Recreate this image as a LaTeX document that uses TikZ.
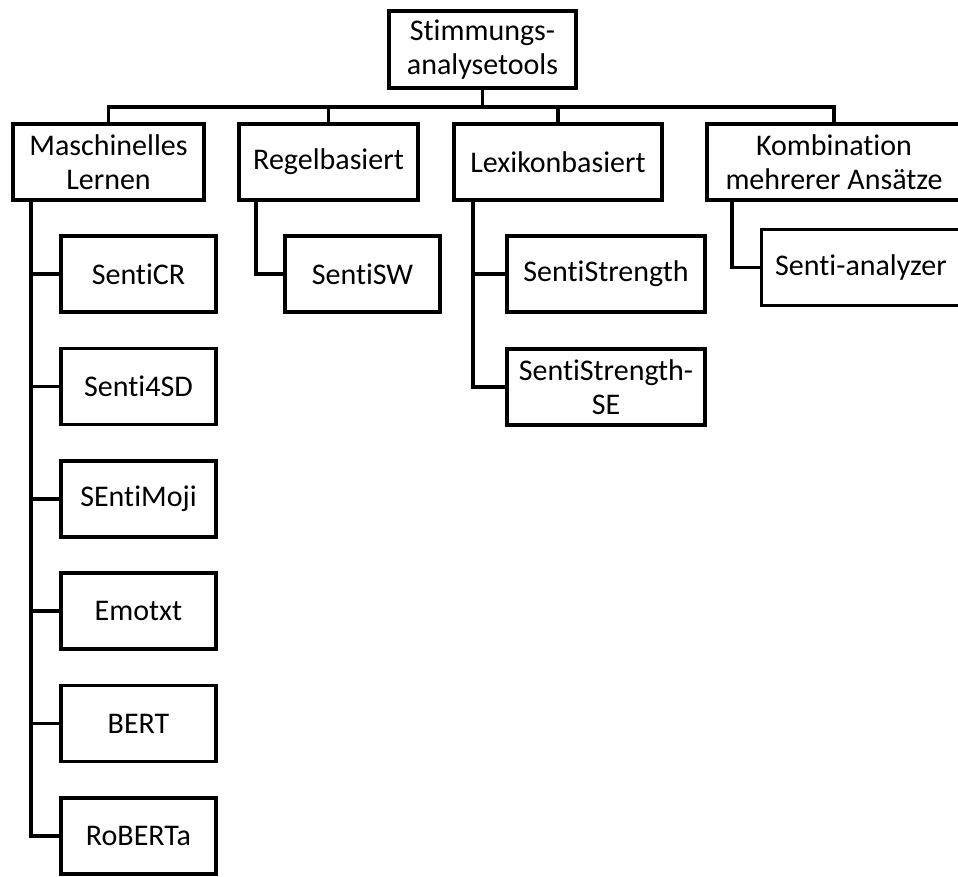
\documentclass[tikz,border=0pt]{standalone}
\usepackage{fontspec}
\setmainfont{Carlito}[RawFeature=-liga]
\usetikzlibrary{positioning, calc}

\begin{document}
\begin{tikzpicture}[x=1pt, y=-1pt,
  kasten/.style={draw, line width=3.6pt, align=center, inner sep=2pt,
    minimum height=76pt, font=\fontsize{30}{34}\selectfont},
  linie/.style={line width=3.6pt}]

\useasboundingbox (0,0) rectangle (958,876);

% Wurzel
\node[kasten, minimum width=187pt, minimum height=77pt] (wurzel) at (482.5,49.5) {Stimmungs-\\analysetools};

% Kategorien
\node[kasten, minimum width=191pt] (ml) at (108.5,162) {Maschinelles\\Lernen};
\node[kasten, minimum width=179pt] (regel) at (328.5,162) {Regelbasiert};
\node[kasten, minimum width=208pt] (lexikon) at (558,162) {Lexikonbasiert};
\node[kasten, minimum width=254pt] (kombi) at (834,162) {Kombination\\mehrerer Ansätze};

% Sammelschiene
\coordinate (bus) at (482.5,107);
\draw[linie] (wurzel.south) -- (bus);
\draw[linie] (ml.north) |- (bus) -| (kombi.north);
\draw[linie] (regel.north) -- (regel.north |- bus);
\draw[linie] (lexikon.north) -- (lexikon.north |- bus);

% Maschinelles Lernen
\foreach \name/\text [count=\i] in {senticr/SentiCR, senti4sd/Senti4SD, sentimoji/SEntiMoji, emotxt/Emotxt, bert/BERT, roberta/RoBERTa}
  \node[kasten, minimum width=155pt] (\name) at (138.5,{274+(\i-1)*112.4}) {\text};
\coordinate (mlstamm) at ([xshift=20pt]ml.south west);
\draw[linie] (mlstamm) |- (roberta.west);
\foreach \name in {senticr, senti4sd, sentimoji, emotxt, bert}
  \draw[linie] (mlstamm |- \name.west) -- (\name.west);

% Regelbasiert
\node[kasten, minimum width=155pt] (sentisw) at (362.5,274) {SentiSW};
\coordinate (regelstamm) at ([xshift=19pt]regel.south west);
\draw[linie] (regelstamm) |- (sentisw.west);

% Lexikonbasiert
\node[kasten, minimum width=198pt] (sentistrength) at (606,274) {SentiStrength};
\node[kasten, minimum width=198pt] (sentistrengthse) at (606,387) {SentiStrength-\\SE};
\coordinate (lexstamm) at ([xshift=21pt]lexikon.south west);
\draw[linie] (lexstamm) |- (sentistrengthse.west);
\draw[linie] (lexstamm |- sentistrength.west) -- (sentistrength.west);

% Kombination
\node[kasten, minimum width=199pt] (sentianalyzer) at (861,267.5) {Senti-analyzer};
\coordinate (kombistamm) at ([xshift=27pt]kombi.south west);
\draw[linie] (kombistamm) |- (sentianalyzer.west);

\end{tikzpicture}
\end{document}
